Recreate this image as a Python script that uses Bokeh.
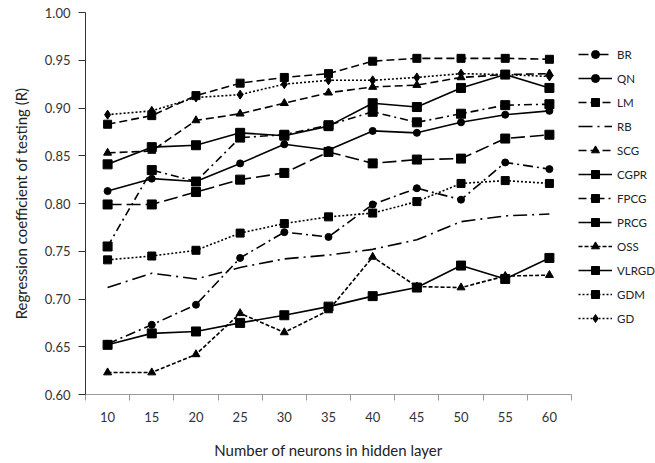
from bokeh.plotting import figure
from bokeh.models import FixedTicker, Legend, LegendItem, Range1d, NumeralTickFormatter
from bokeh.embed import file_html
from bokeh.resources import INLINE

neurons = [10, 15, 20, 25, 30, 35, 40, 45, 50, 55, 60]
y_ticks = [0.60, 0.65, 0.70, 0.75, 0.80, 0.85, 0.90, 0.95, 1.00]

BR = [0.653, 0.673, 0.694, 0.743, 0.770, 0.765, 0.799, 0.816, 0.804, 0.843, 0.836]
QN = [0.813, 0.826, 0.823, 0.842, 0.862, 0.856, 0.876, 0.874, 0.885, 0.893, 0.897]
LM = [0.883, 0.892, 0.913, 0.926, 0.932, 0.936, 0.949, 0.952, 0.952, 0.952, 0.951]
RB = [0.712, 0.727, 0.721, 0.733, 0.742, 0.746, 0.752, 0.762, 0.781, 0.787, 0.789]
SCG = [0.853, 0.855, 0.887, 0.894, 0.905, 0.916, 0.922, 0.924, 0.932, 0.935, 0.936]
CGPR = [0.841, 0.859, 0.861, 0.874, 0.871, 0.881, 0.905, 0.901, 0.921, 0.935, 0.921]
FPCG = [0.755, 0.835, 0.823, 0.869, 0.872, 0.882, 0.896, 0.885, 0.894, 0.903, 0.904]
PRCG = [0.799, 0.799, 0.812, 0.825, 0.832, 0.854, 0.842, 0.846, 0.847, 0.868, 0.872]
OSS = [0.623, 0.623, 0.642, 0.685, 0.665, 0.688, 0.744, 0.713, 0.712, 0.724, 0.725]
VLRGD = [0.652, 0.664, 0.666, 0.675, 0.683, 0.692, 0.703, 0.712, 0.735, 0.721, 0.743]
GDM = [0.741, 0.745, 0.751, 0.769, 0.779, 0.786, 0.790, 0.802, 0.821, 0.824, 0.821]
GD = [0.893, 0.897, 0.911, 0.914, 0.925, 0.929, 0.929, 0.932, 0.936, 0.935, 0.933]

series = [
    ("BR", BR, "10 4 2 4", "circle", 7),
    ("QN", QN, "solid", "circle", 7),
    ("LM", LM, "8 4", "square", 8),
    ("RB", RB, "14 5 2 5", None, 0),
    ("SCG", SCG, "8 4", "triangle", 8),
    ("CGPR", CGPR, "solid", "square", 9),
    ("FPCG", FPCG, "8 4 2 4", "square", 9),
    ("PRCG", PRCG, "14 5", "square", 9),
    ("OSS", OSS, "4 2", "triangle", 8),
    ("VLRGD", VLRGD, "solid", "square", 9),
    ("GDM", GDM, "2 2", "square", 8),
    ("GD", GD, "2 2", "diamond", 9),
]

FONT = "Lato"

p = figure(frame_width=486, frame_height=382, output_backend="svg", toolbar_location=None,
           x_range=Range1d(7.5, 62.5), y_range=Range1d(0.60, 1.00),
           min_border_left=85, min_border_right=0, min_border_top=12, min_border_bottom=69)
p.outline_line_color = None
p.xgrid.visible = False
p.ygrid.visible = False
p.background_fill_color = "white"

items = []
for name, vals, dash, marker, size in series:
    rs = []
    r = p.line(neurons, vals, line_color="black", line_width=1.6, line_dash=dash)
    rs.append(r)
    if marker:
        s = p.scatter(neurons, vals, marker=marker, size=size, fill_color="black", line_color="black")
        rs.append(s)
    items.append(LegendItem(label=name, renderers=rs))

legend = Legend(items=items, location=(7, 66), glyph_width=34, glyph_height=20,
                label_height=20, spacing=4, padding=0, margin=0,
                border_line_color=None, background_fill_alpha=0,
                label_text_font_size="11.5px", label_text_font=FONT, label_standoff=5,
                label_text_color="#222222", label_width=36)
p.add_layout(legend, "right")

# x axis
minor = [n - 2.5 for n in neurons] + [neurons[-1] + 2.5]
p.xaxis.ticker = FixedTicker(ticks=neurons, minor_ticks=minor)
p.xaxis.major_tick_line_color = None
p.xaxis.major_tick_out = 0
p.xaxis.minor_tick_in = 0
p.xaxis.minor_tick_out = 6
p.xaxis.minor_tick_line_color = "#9a9a9a"
p.xaxis.axis_line_color = "#9a9a9a"
p.xaxis.major_label_standoff = 11
p.xaxis.major_label_text_font_size = "13px"
p.xaxis.major_label_text_font = FONT
p.xaxis.major_label_text_color = "#333333"
p.xaxis.axis_label = "Number of neurons in hidden layer"
p.xaxis.axis_label_text_font_size = "15px"
p.xaxis.axis_label_text_font = FONT
p.xaxis.axis_label_text_font_style = "normal"
p.xaxis.axis_label_text_color = "#222222"
p.xaxis.axis_label_standoff = 16

# y axis
p.yaxis.ticker = FixedTicker(ticks=y_ticks)
p.yaxis.formatter = NumeralTickFormatter(format="0.00")
p.yaxis.major_tick_in = 0
p.yaxis.major_tick_out = 7
p.yaxis.minor_tick_line_color = None
p.yaxis.axis_line_color = "#333333"
p.yaxis.major_tick_line_color = "#333333"
p.yaxis.major_label_standoff = 8
p.yaxis.major_label_text_font_size = "13px"
p.yaxis.major_label_text_font = FONT
p.yaxis.major_label_text_color = "#333333"
p.yaxis.axis_label = "Regression coefficient of testing (R)"
p.yaxis.axis_label_text_font_size = "15px"
p.yaxis.axis_label_text_font = FONT
p.yaxis.axis_label_text_font_style = "normal"
p.yaxis.axis_label_text_color = "#222222"
p.yaxis.axis_label_standoff = 12

open("out.html", "w").write(file_html(p, INLINE))
